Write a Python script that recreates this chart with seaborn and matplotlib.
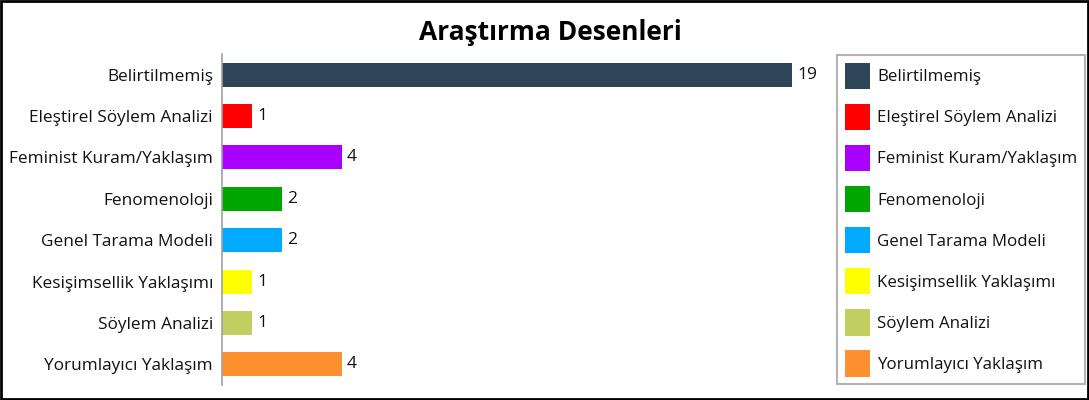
import matplotlib
matplotlib.use("Agg")
import matplotlib.pyplot as plt
import seaborn as sns
import pandas as pd
from matplotlib.patches import Patch, Rectangle

categories = ["Belirtilmemiş", "Eleştirel Söylem Analizi", "Feminist Kuram/Yaklaşım",
              "Fenomenoloji", "Genel Tarama Modeli", "Kesişimsellik Yaklaşımı",
              "Söylem Analizi", "Yorumlayıcı Yaklaşım"]
values = [19, 1, 4, 2, 2, 1, 1, 4]
colors = ["#2E4457", "#FF0000", "#AA00FF", "#00A600", "#00AAFF", "#FFFF00", "#C0CF60", "#FF9030"]

sns.set_theme(style="white")
plt.rcParams['font.family'] = ['Open Sans', 'DejaVu Sans']

df = pd.DataFrame({"cat": categories, "val": values})

fig = plt.figure(figsize=(10.89, 4.0), dpi=100)
W, H = 1089, 400
ax = fig.add_axes([222 / W, 1 - 385 / H, 600 / W, 331 / H])

sns.barplot(data=df, x="val", y="cat", hue="cat", palette=colors, dodge=False,
            order=categories, hue_order=categories, width=0.58, legend=False, ax=ax,
            edgecolor="none", saturation=1)
ax.set_xlim(0, 20)
ax.set_ylim(7.5, -0.5)
ax.set_xlabel("")
ax.set_ylabel("")
ax.set_xticks([])
for s in ["top", "right", "bottom"]:
    ax.spines[s].set_visible(False)
ax.spines["left"].set_color("#A0A0A0")
ax.spines["left"].set_linewidth(1.2)
ax.tick_params(axis="y", length=0, pad=6.5, labelsize=12.4, labelcolor="#111111")

for c in ax.containers:
    ax.bar_label(c, padding=3.6, fontsize=12.5, color="#111111")

fig.text(550 / W, 1 - 32 / H, "Araştırma Desenleri", ha="center", va="center",
         fontsize=19, fontweight="bold", color="#000000")

handles = [Patch(facecolor=c, edgecolor="none") for c in colors]
leg = fig.legend(handles, categories, loc="upper left",
                 bbox_to_anchor=(837 / W, 1 - 55 / H), bbox_transform=fig.transFigure,
                 fontsize=12.2, handlelength=1.47, handleheight=2.0, labelspacing=0.88,
                 handletextpad=0.45, borderpad=0.46, borderaxespad=0, frameon=True,
                 fancybox=False)
leg.get_frame().set_edgecolor("#A0A0A0")
leg.get_frame().set_linewidth(1.5)
for t in leg.get_texts():
    t.set_color("#111111")

fig.patches.append(Rectangle((1 / W, 1 / H), 1 - 2 / W, 1 - 2 / H, transform=fig.transFigure,
                             fill=False, edgecolor="#000000", linewidth=2))

fig.savefig("out.png", dpi=100)
